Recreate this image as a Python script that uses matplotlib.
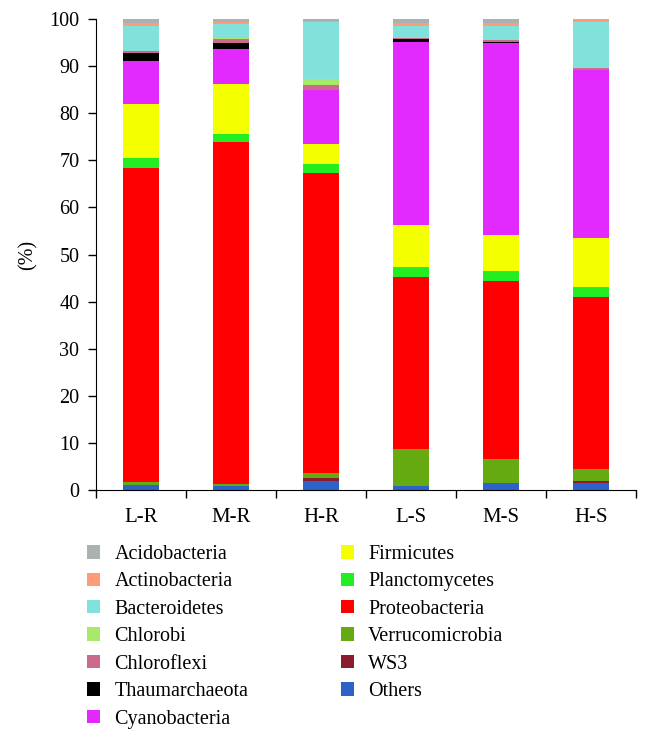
import matplotlib
matplotlib.use("Agg")
import matplotlib.pyplot as plt
import numpy as np
from matplotlib.patches import Patch

plt.rcParams['font.family'] = ['Liberation Serif', 'DejaVu Serif']

samples = ["L-R", "M-R", "H-R", "L-S", "M-S", "H-S"]

# stacking order bottom -> top
phyla = ["Others", "WS3", "Verrucomicrobia", "Proteobacteria", "Planctomycetes",
         "Firmicutes", "Cyanobacteria", "Thaumarchaeota", "Chloroflexi",
         "Chlorobi", "Bacteroidetes", "Actinobacteria", "Acidobacteria"]

others          = [1.0, 0.8, 1.9, 0.9, 1.4, 1.4]
ws3             = [0.1, 0.1, 0.7, 0.0, 0.1, 0.6]
verrucomicrobia = [0.5, 0.3, 1.1, 7.8, 5.1, 2.5]
proteobacteria  = [66.8, 72.7, 63.6, 36.5, 37.8, 36.5]
planctomycetes  = [2.1, 1.6, 2.0, 2.1, 2.1, 2.0]
firmicutes      = [11.4, 10.7, 4.1, 9.0, 7.7, 10.5]
cyanobacteria   = [9.2, 7.4, 11.5, 38.9, 40.8, 35.7]
thaumarchaeota  = [1.6, 1.4, 0.0, 0.6, 0.2, 0.0]
chloroflexi     = [0.4, 0.7, 1.1, 0.1, 0.3, 0.3]
chlorobi        = [0.1, 0.2, 1.2, 0.1, 0.1, 0.3]
bacteroidetes   = [5.4, 3.0, 12.2, 2.5, 2.9, 9.6]
actinobacteria  = [0.6, 0.5, 0.1, 0.7, 0.7, 0.5]
acidobacteria   = [0.8, 0.6, 0.5, 0.8, 0.8, 0.1]

series = [others, ws3, verrucomicrobia, proteobacteria, planctomycetes, firmicutes,
          cyanobacteria, thaumarchaeota, chloroflexi, chlorobi, bacteroidetes,
          actinobacteria, acidobacteria]

colors = {
    "Acidobacteria": "#A9B1B1",
    "Actinobacteria": "#FF9B78",
    "Bacteroidetes": "#80E2DA",
    "Chlorobi": "#A8E86A",
    "Chloroflexi": "#CC6A8E",
    "Thaumarchaeota": "#000000",
    "Cyanobacteria": "#E22AFF",
    "Firmicutes": "#F4FF00",
    "Planctomycetes": "#22EE22",
    "Proteobacteria": "#FF0000",
    "Verrucomicrobia": "#66AA11",
    "WS3": "#8B1C2E",
    "Others": "#2D62C8",
}

legend_order = ["Acidobacteria", "Actinobacteria", "Bacteroidetes", "Chlorobi",
                "Chloroflexi", "Thaumarchaeota", "Cyanobacteria",
                "Firmicutes", "Planctomycetes", "Proteobacteria",
                "Verrucomicrobia", "WS3", "Others"]

fig = plt.figure(figsize=(6.53, 7.44), dpi=100)
ax = fig.add_axes([96 / 653, (744 - 490) / 744, 540 / 653, 471 / 744])

x = np.arange(len(samples))
bottom = np.zeros(len(samples))
for name, vals in zip(phyla, series):
    vals = np.array(vals)
    ax.bar(x, vals, bottom=bottom, width=0.41, color=colors[name], linewidth=0)
    bottom += vals

ax.set_xlim(-0.5, len(samples) - 0.5)
ax.set_ylim(0, 100)
ax.set_yticks(np.arange(0, 101, 10))
ax.set_xticks(x)
ax.set_xticklabels(samples)
ax.set_xticks(np.arange(-0.5, len(samples), 1.0), minor=True)
ax.tick_params(axis='x', which='major', length=0, labelsize=15, pad=13)
ax.tick_params(axis='x', which='minor', length=6, width=1, direction='out')
ax.tick_params(axis='y', length=6, width=1, direction='out', labelsize=14.5, pad=6)
ax.spines['top'].set_visible(False)
ax.spines['right'].set_visible(False)
ax.set_ylabel("(%)", fontsize=14.5, labelpad=8)

handles = [Patch(facecolor=colors[n], edgecolor='none') for n in legend_order]
fig.legend(handles, legend_order, loc='upper left', bbox_to_anchor=(0.106, 0.292),
           ncol=2, frameon=False, fontsize=14.5, handlelength=0.65, handleheight=0.65,
           handletextpad=0.7, columnspacing=4.6, labelspacing=0.42)

fig.savefig("out.png", dpi=100)
